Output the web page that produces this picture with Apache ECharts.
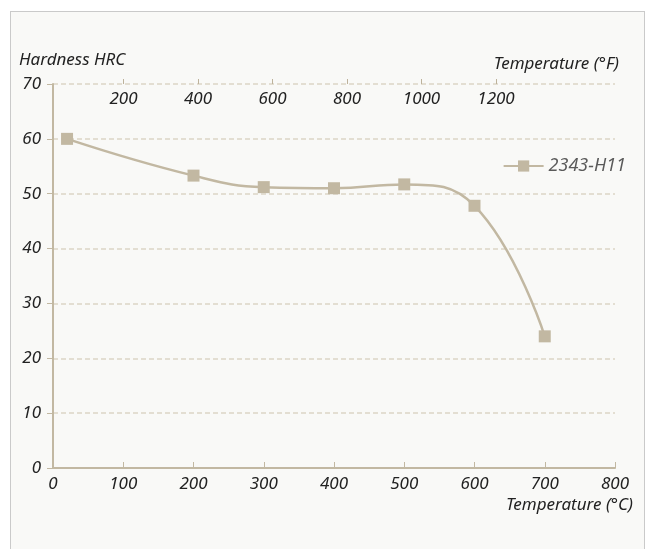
<!DOCTYPE html>
<html>
<head>
<meta charset="utf-8">
<script src="https://cdn.jsdelivr.net/npm/echarts@6/dist/echarts.min.js"></script>
<style>
  html, body { margin: 0; padding: 0; background: #fff; }
  #frame {
    position: absolute; left: 10px; top: 11px; width: 633px; height: 545px;
    background: #f9f9f7; border: 1px solid #cacaca;
  }
  #chart { position: absolute; left: 0; top: 0; width: 646px; height: 549px; }
</style>
</head>
<body>
<div id="frame"></div>
<div id="chart"></div>
<script>
// hardness after tempering, 2343-H11
var seriesName = '2343-H11';
var tempC = [20, 200, 300, 400, 500, 600, 700];
var hardness = [60, 53.3, 51.2, 51, 51.7, 47.8, 24];
var tickF = [200, 400, 600, 800, 1000, 1200];

var tan = '#c2b8a2';
var font = '"Noto Sans", "Open Sans", sans-serif';
var fs = 17;

var points = [];
for (var i = 0; i < tempC.length; i++) {
    points.push([tempC[i], hardness[i]]);
}

function plain(v) { return String(v); }

var chart = echarts.init(document.getElementById('chart'), null, { renderer: 'canvas' });

var option = {
    backgroundColor: 'transparent',
    animation: false,
    textStyle: { fontFamily: font, fontStyle: 'italic' },
    grid: [
        { left: 53, right: 31, top: 84, bottom: 81 },
        // the °F scale only spans its labelled ticks
        { left: 123.5, right: 150, top: 84, bottom: 81 }
    ],
    legend: {
        right: 15,
        top: 152,
        itemWidth: 40,
        itemHeight: 14,
        itemGap: 8,
        textStyle: { color: '#5a5a5a', fontSize: 18, fontStyle: 'italic', fontFamily: font },
        data: [seriesName]
    },
    xAxis: [
        {
            type: 'value',
            gridIndex: 0,
            position: 'bottom',
            min: 0,
            max: 800,
            interval: 100,
            name: 'Temperature (°C)',
            nameLocation: 'end',
            nameGap: 18,
            nameTextStyle: {
                color: '#222', fontSize: fs, fontStyle: 'italic', fontFamily: font,
                align: 'right', verticalAlign: 'top', padding: [29, 0, 0, 0]
            },
            axisLine: { show: true, lineStyle: { color: tan, width: 2 } },
            axisTick: { show: true, inside: true, length: 6, lineStyle: { color: tan, width: 1 } },
            axisLabel: { color: '#222', fontSize: fs, fontStyle: 'italic', margin: 8, formatter: plain },
            splitLine: { show: false }
        },
        {
            type: 'value',
            gridIndex: 1,
            position: 'top',
            min: tickF[0],
            max: tickF[tickF.length - 1],
            interval: 200,
            name: 'Temperature (°F)',
            nameLocation: 'end',
            nameGap: 123,
            nameTextStyle: {
                color: '#222', fontSize: fs, fontStyle: 'italic', fontFamily: font,
                align: 'right', verticalAlign: 'bottom', padding: [0, 0, 11, 0]
            },
            axisLine: { show: false, onZero: false },
            axisTick: { show: true, inside: false, length: 5, lineStyle: { color: '#bdb29b', width: 1 } },
            axisLabel: { inside: true, color: '#222', fontSize: fs, fontStyle: 'italic', margin: 7, formatter: plain },
            splitLine: { show: false }
        }
    ],
    yAxis: [
        {
            type: 'value',
            gridIndex: 0,
            min: 0,
            max: 70,
            interval: 10,
            axisLine: { show: true, lineStyle: { color: tan, width: 2 } },
            axisTick: { show: true, length: 6, lineStyle: { color: tan, width: 1 } },
            axisLabel: { color: '#222', fontSize: fs, fontStyle: 'italic', margin: 12, formatter: plain },
            splitLine: { show: true, lineStyle: { color: '#dcd5c6', type: [5, 3], width: 1.5 } }
        },
        {
            type: 'value',
            gridIndex: 1,
            min: 0,
            max: 70,
            show: false
        }
    ],
    graphic: [
        {
            type: 'text',
            left: 19,
            top: 52,
            style: { text: 'Hardness HRC', fill: '#222', font: 'italic ' + fs + 'px ' + font }
        }
    ],
    series: [
        {
            name: seriesName,
            type: 'line',
            xAxisIndex: 0,
            yAxisIndex: 0,
            data: points,
            smooth: 0.45,
            symbol: 'rect',
            symbolSize: 12,
            color: tan,
            lineStyle: { color: tan, width: 2.5 },
            itemStyle: { color: tan }
        }
    ]
};

chart.setOption(option);
</script>
</body>
</html>
